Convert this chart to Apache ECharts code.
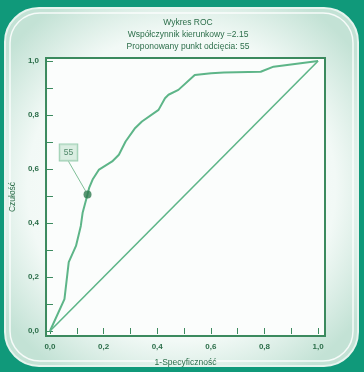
<!DOCTYPE html>
<html>
<head>
<meta charset="utf-8">
<script src="https://cdn.jsdelivr.net/npm/echarts@6/dist/echarts.min.js"></script>
<style>
  html, body { margin: 0; padding: 0; background: #10997a; }
  #chart { width: 364px; height: 372px; }
</style>
</head>
<body>
<div id="chart"></div>
<script>
// 1 - specyficznosc (x) i czulosc (y)
const fpr = [0, 0.054, 0.070, 0.097, 0.115, 0.122, 0.140, 0.146, 0.159, 0.183, 0.232, 0.257, 0.282,
  0.318, 0.343, 0.405, 0.429, 0.442, 0.479, 0.540, 0.601, 0.649, 0.786, 0.834, 1.0];
const tpr = [0, 0.118, 0.255, 0.315, 0.389, 0.439, 0.506, 0.530, 0.561, 0.598, 0.628, 0.653, 0.702,
  0.752, 0.776, 0.819, 0.862, 0.875, 0.893, 0.948, 0.955, 0.957, 0.960, 0.979, 1.0];
const diagX = [0, 1];
const diagY = [0, 1];
const cutX = [0.140];
const cutY = [0.506];
const cutLabel = '55';

const tickValues = [0, 0.2, 0.4, 0.6, 0.8, 1.0];
const tickLabels = ['0,0', '0,2', '0,4', '0,6', '0,8', '1,0'];
const minorValues = [0, 0.1, 0.2, 0.3, 0.4, 0.5, 0.6, 0.7, 0.8, 0.9, 1.0];

const titleLines = ['Wykres ROC', 'Współczynnik kierunkowy =2.15', 'Proponowany punkt odcięcia: 55'];

const frameColor = '#3b8a5e';
const lineColor = '#5db588';
const textColor = '#2c6e4a';
const font = 'Liberation Sans, Arial, sans-serif';

const fmt = (v) => {
  const i = tickValues.findIndex(t => Math.abs(t - v) < 1e-6);
  return i >= 0 ? tickLabels[i] : '';
};

const axisBase = {
  type: 'value',
  axisLine: { show: false },
  splitLine: { show: false },
  axisTick: { show: true, inside: true, length: 3, customValues: minorValues,
    lineStyle: { color: frameColor, width: 1 } },
  axisLabel: { show: false }
};

const chart = echarts.init(document.getElementById('chart'));
chart.setOption({
  backgroundColor: '#10997a',
  animation: false,
  textStyle: { fontFamily: font },
  graphic: [
    {
      type: 'rect', z: -10,
      shape: { x: 5, y: 8, width: 353, height: 358, r: 34 },
      style: {
        fill: { type: 'radial', x: 0.5, y: 0.5, r: 0.62,
          colorStops: [{ offset: 0, color: '#ffffff' }, { offset: 0.7, color: '#f2f9f6' }, { offset: 1, color: '#c3e2d5' }] },
        stroke: '#e6f4ee', lineWidth: 2
      }
    },
    {
      type: 'rect', z: -9,
      shape: { x: 10, y: 13, width: 343, height: 348, r: 30 },
      style: { fill: null, stroke: 'rgba(255,255,255,0.85)', lineWidth: 1.5 }
    }
  ],
  title: {
    text: titleLines.join('\n'),
    left: 183, top: 12, textAlign: 'center',
    textStyle: { fontSize: 8.5, fontWeight: 'normal', color: textColor, lineHeight: 12, fontFamily: font }
  },
  grid: {
    left: 43, top: 58, width: 282, height: 279,
    show: true, backgroundColor: '#fbfdfc', borderColor: frameColor, borderWidth: 2
  },
  xAxis: [
    Object.assign({}, axisBase, {
      position: 'bottom', min: -4 / 271, max: 1 + 7 / 271,
      name: '1-Specyficzność', nameLocation: 'middle', nameGap: 22,
      nameTextStyle: { fontSize: 8.5, color: textColor, fontFamily: font },
      axisLabel: { show: true, customValues: tickValues, formatter: fmt, margin: 7,
        fontSize: 8, fontWeight: 'bold', color: textColor, fontFamily: font }
    }),
    Object.assign({}, axisBase, { position: 'top', min: -4 / 271, max: 1 + 7 / 271 })
  ],
  yAxis: [
    Object.assign({}, axisBase, {
      position: 'left', min: -5 / 271, max: 1 + 3 / 271,
      name: 'Czułość', nameLocation: 'middle', nameGap: 27, nameRotate: 90,
      nameTextStyle: { fontSize: 8.5, color: textColor, fontFamily: font },
      axisLabel: { show: true, customValues: tickValues, formatter: fmt, margin: 7,
        fontSize: 8, fontWeight: 'bold', color: textColor, fontFamily: font }
    }),
    Object.assign({}, axisBase, { position: 'right', min: -5 / 271, max: 1 + 3 / 271 })
  ],
  series: [
    {
      type: 'line', xAxisIndex: 0, yAxisIndex: 0,
      data: fpr.map((x, i) => [x, tpr[i]]),
      showSymbol: false, smooth: false,
      lineStyle: { color: lineColor, width: 2 }
    },
    {
      type: 'line', xAxisIndex: 0, yAxisIndex: 0,
      data: diagX.map((x, i) => [x, diagY[i]]),
      showSymbol: false,
      lineStyle: { color: lineColor, width: 1.6 }
    },
    {
      type: 'scatter', xAxisIndex: 0, yAxisIndex: 0,
      data: cutX.map((x, i) => [x, cutY[i]]),
      symbolSize: 8, z: 5,
      itemStyle: { color: '#2f7a4f' },
      label: {
        show: true, position: 'inside', formatter: cutLabel,
        fontSize: 8.5, color: textColor, backgroundColor: '#d2eadb',
        borderColor: '#86c3a0', borderWidth: 1, padding: [4, 4, 3, 4]
      },
      labelLayout: { dx: -19, dy: -42 },
      labelLine: { show: true, lineStyle: { color: '#7fbf98', width: 1 } }
    }
  ]
});
</script>
</body>
</html>
